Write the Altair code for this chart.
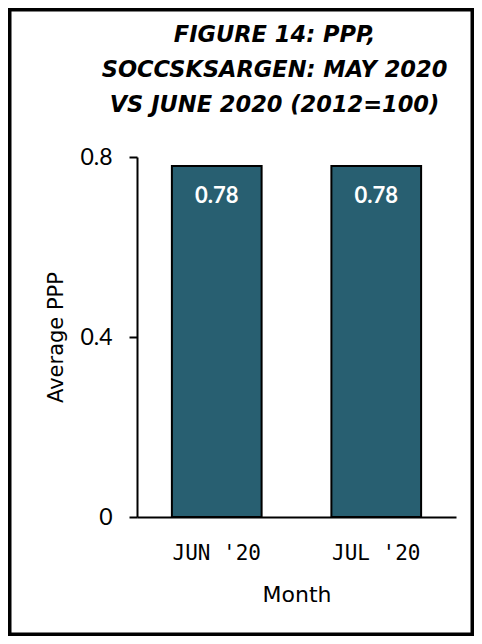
import altair as alt
import pandas as pd

months = ["JUN '20", "JUL '20"]
ppp = [0.78, 0.78]
value_labels = ["0.78", "0.78"]
y_ticks = [0, 0.4, 0.8]
title_lines = ["FIGURE 14: PPP,", "SOCCSKSARGEN: MAY 2020", "VS JUNE 2020 (2012=100)"]

df = pd.DataFrame({"Month": months, "PPP": ppp, "label": value_labels})
frame_df = pd.DataFrame({"f": [0]})

W, H = 319, 360
BAR = "#285F71"

x_enc = alt.X(
    "Month:N",
    sort=months,
    scale=alt.Scale(paddingInner=0.4375, paddingOuter=0.21875),
    axis=alt.Axis(
        title="Month",
        labelAngle=0,
        ticks=False,
        tickSize=0,
        domainColor="black",
        domainWidth=2,
        labelFont="DejaVu Sans Mono",
        labelFontSize=21,
        labelColor="black",
        labelBaseline="top",
        labelPadding=25,
        titleFont="DejaVu Sans",
        titleFontSize=22,
        titleFontWeight="normal",
        titleColor="black",
        titleY=84,
        titleBaseline="alphabetic",
    ),
)
y_enc = alt.Y(
    "PPP:Q",
    scale=alt.Scale(domain=[0, 0.8]),
    axis=alt.Axis(
        values=y_ticks,
        format="~g",
        title="Average PPP",
        grid=False,
        domainColor="black",
        domainWidth=2,
        tickColor="black",
        tickWidth=2,
        tickSize=8,
        labelFont="Lato",
        labelFontSize=23,
        labelColor="black",
        labelPadding=17,
        titleFont="DejaVu Sans",
        titleFontSize=21,
        titleFontWeight="normal",
        titleColor="black",
        titleX=-81,
        titleY=180,
        titleAngle=-90,
        titleAlign="center",
        titleBaseline="middle",
    ),
)

bars = alt.Chart(df).mark_bar(color=BAR, stroke="black", strokeWidth=2).encode(x=x_enc, y=y_enc)

text = alt.Chart(df).mark_text(
    color="white", font="Lato", fontWeight="bold", fontSize=22, baseline="alphabetic", dy=37
).encode(x=alt.X("Month:N", sort=months), y=alt.Y("PPP:Q"), text="label:N")

frame = alt.Chart(frame_df).mark_rect(
    fillOpacity=0, stroke="black", strokeWidth=3.5
).encode(x=alt.value(-127.25), x2=alt.value(335.25), y=alt.value(-147.25), y2=alt.value(477.25))

chart = (
    alt.layer(bars, text, frame)
    .properties(
        width=W,
        height=H,
        autosize=alt.AutoSizeParams(type="none"),
        padding={"left": 129, "top": 149, "right": 18, "bottom": 119},
        title=alt.TitleParams(
            text=title_lines,
            font="DejaVu Sans",
            fontSize=22.5,
            fontStyle="italic",
            fontWeight="bold",
            color="black",
            lineHeight=35,
            anchor="middle",
            frame="group",
            baseline="alphabetic",
            dx=-22,
            offset=-126,
        ),
    )
    .configure_view(stroke=None)
)

chart.save("out.html", embed_options={"renderer": "svg", "actions": False})
